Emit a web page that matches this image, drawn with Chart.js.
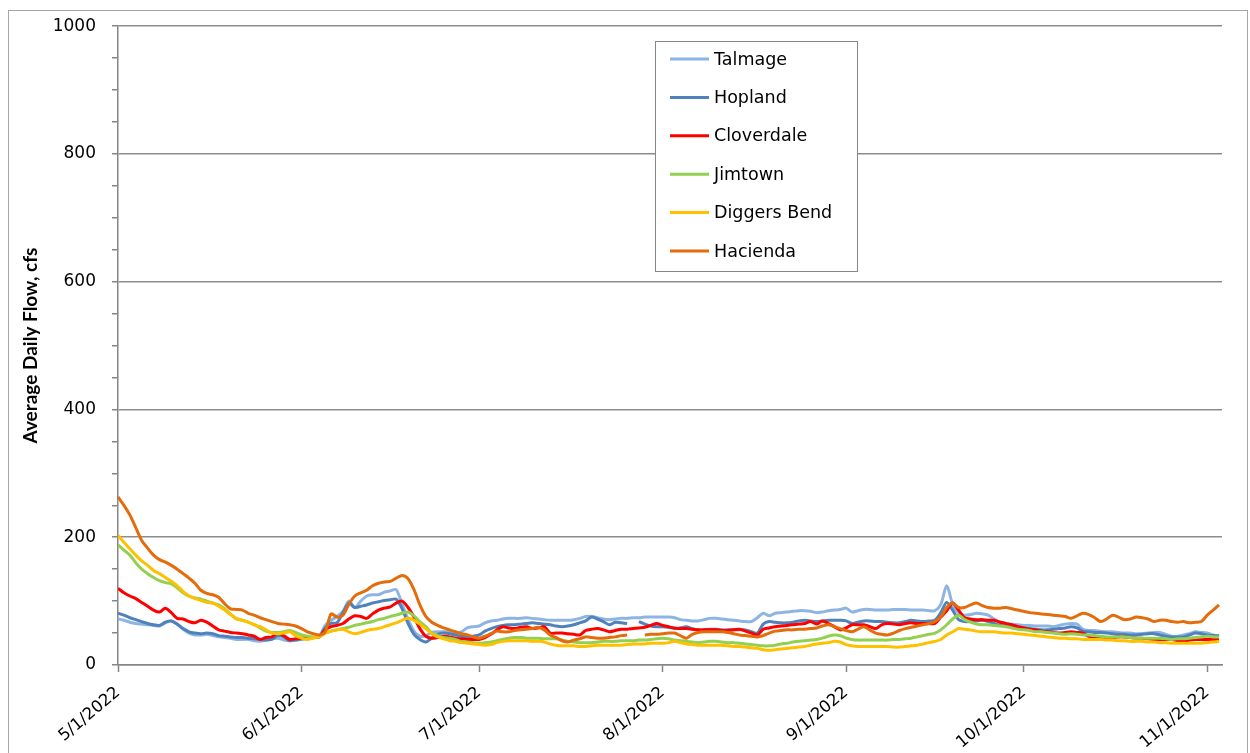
<!DOCTYPE html>
<html>
<head>
<meta charset="utf-8">
<title>Average Daily Flow</title>
<script src="https://cdn.jsdelivr.net/npm/chart.js@4.4.1/dist/chart.umd.min.js"></script>
<style>
  html, body { margin: 0; padding: 0; background: #ffffff; }
  canvas { display: block; }
</style>
</head>
<body>
<canvas id="flowChart" width="1250" height="753"></canvas>
<script>
// Average daily flow (cfs), one value per day from 5/1/2022 through 11/3/2022.
const talmage = [
  72,70,67,65,64,63,62,61,66,69, 64,56,50,47,47,48,46,44,43,42, 40,40,40,38,37,39,41,42,39,38, 39,
  40,41,43,45,62,70,76,84,100,90, 100,108,110,110,114,116,118,95,72,53, 45,46,51,52,52,52,50,52,58,60,
  61,66,69,70,72,73,73,73,74,73, 72,71,70,70,70,70,71,73,76,76, 74,72,71,72,73,73,74,74,75,75, 75,
  75,75,74,71,70,69,69,71,73,73, 72,71,70,69,68,68,74,81,77,81, 82,83,84,85,85,84,82,83,85,86, 87,
  89,83,85,87,87,86,86,86,87,87, 87,86,86,86,85,85,95,124,95,81, 78,79,81,80,78,72,67,65,64,63,
  62,62,61,61,61,60,62,64,65,64, 56,54,54,53,52,52,51,50,50,49, 49,50,51,51,48,45,45,47,49,52, 51,
  50,47,44
];
const hopland = [
  81,78,74,71,68,65,63,62,67,69, 64,57,52,50,49,50,49,46,45,44, 43,43,42,41,40,39,40,46,44,38, 39,
  41,42,43,44,58,65,66,82,97,90, 92,94,97,99,101,102,103,88,65,48, 40,36,42,48,50,49,47,45,44,45,
  47,53,57,60,62,63,63,64,65,66, 65,64,63,61,60,61,63,66,69,75, 72,68,63,67,66,65,null,68,64,61, 60,
  60,59,57,58,60,57,55,55,56,56, 55,55,55,55,55,52,50,64,68,67, 66,66,67,69,70,69,68,69,70,70, 70,
  69,65,67,69,69,68,68,67,66,66, 68,70,69,68,69,70,82,98,86,71, 68,68,69,70,68,65,62,61,60,59,
  58,57,56,55,55,56,57,58,60,58, 53,52,51,51,50,49,48,48,47,47, 48,49,49,47,45,44,44,44,47,50, 49,
  47,46,46
];
const cloverdale = [
  120,113,108,104,98,92,86,83,89,82, 73,72,68,66,70,67,61,55,53,51, 50,49,47,45,40,43,44,50,46,40, 41,
  42,42,43,44,55,60,62,65,72,77, 76,73,80,86,89,91,97,100,90,75, 57,45,42,43,45,44,42,41,40,40,
  40,43,48,55,60,58,57,59,60,57, 58,60,50,50,50,49,48,47,54,56, 57,55,52,54,56,56,57,58,59,62, 65,
  62,60,58,57,57,56,55,55,55,55, 54,54,55,56,53,50,47,56,58,60, 61,62,63,64,65,68,64,69,65,60, 55,
  58,63,63,63,60,57,63,65,64,63, 65,66,65,65,65,65,75,85,97,86, 74,72,71,71,70,70,67,65,63,60,
  58,56,55,53,52,51,50,51,52,51, 50,45,44,43,43,43,44,44,43,42, 42,41,40,40,40,40,38,37,39,40, 40,
  40,40,40
];
const jimtown = [
  188,180,172,160,150,143,137,132,129,127, 121,113,108,105,103,100,97,94,88,80, 72,70,67,63,58,53,51,51,52,54, 51,
  47,45,44,44,50,53,55,57,59,62, 64,66,68,71,73,76,78,81,83,77, 68,60,50,46,43,42,40,37,36,35,
  34,35,36,38,40,42,43,43,42,42, 42,41,41,41,39,37,36,35,35,35, 36,37,37,37,38,38,38,39,39,40, 41,
  42,41,39,38,37,36,35,36,37,37, 36,35,35,34,33,32,31,30,30,31, 33,34,36,37,38,39,40,42,45,47, 46,
  42,40,39,39,39,39,39,39,40,40, 41,42,44,46,48,50,55,63,72,78, 71,67,64,63,63,62,61,60,58,56,
  55,54,52,52,51,50,49,48,49,48, 47,47,46,45,44,44,44,44,43,42, 42,42,42,42,41,40,41,41,42,43, 44,
  45,44,44
];
const diggersBend = [
  203,192,182,172,163,156,148,143,137,131, 124,115,108,104,101,98,97,92,86,79, 73,70,67,63,60,55,50,49,50,52, 46,
  42,40,42,44,50,53,55,56,52,49, 51,54,56,57,60,63,66,70,73,70, 64,57,49,44,41,38,37,35,34,33,
  32,31,32,35,37,38,38,38,38,37, 37,36,33,31,30,30,30,29,29,30, 31,31,31,31,31,32,33,33,33,34, 34,
  34,35,37,35,33,32,31,31,31,31, 31,30,29,29,28,27,26,24,23,24, 25,26,27,28,29,31,33,34,35,37, 36,
  32,30,29,29,29,29,29,29,28,28, 29,30,31,33,35,37,40,47,52,57, 56,55,53,52,52,52,51,50,50,49,
  48,47,46,45,44,43,42,42,41,41, 40,40,40,40,39,39,38,38,37,37, 37,36,36,35,35,34,34,34,34,34, 34,
  35,36,37
];
const hacienda = [
  263,250,235,215,195,183,172,165,161,156, 150,143,136,128,117,112,110,106,96,88, 87,86,81,78,74,71,68,65,64,63, 61,
  57,52,49,47,52,80,75,78,95,108, 113,117,124,128,130,131,136,140,135,118, 94,76,67,62,58,55,52,49,47,44,
  42,45,49,53,52,52,54,55,56,57, 59,55,47,43,38,36,39,41,44,43, 42,42,43,44,46,47,null,null,47,48, 48,
  49,50,50,46,42,48,51,52,52,52, 52,51,49,47,46,45,44,46,50,53, 54,55,55,56,56,57,58,61,63,60, 57,
  54,52,56,60,55,50,48,47,50,54, 57,59,61,63,65,68,75,90,97,90, 90,94,97,93,90,89,89,90,88,86,
  84,82,81,80,79,78,77,76,73,77, 81,79,74,68,72,78,75,71,72,75, 74,72,68,70,70,68,67,68,66,67, 68,
  78,86,94
];

// Station names and line colours, in legend order.
const stationNames = ['Talmage', 'Hopland', 'Cloverdale', 'Jimtown', 'Diggers Bend', 'Hacienda'];
const stationColors = ['#8EB4E3', '#4F81BD', '#FF0000', '#92D050', '#FFC000', '#E46C0A'];
const stationSeries = [talmage, hopland, cloverdale, jimtown, diggersBend, hacienda];

// Month-start positions (days after 5/1/2022) and their axis labels.
const monthTickDays = [0, 31, 61, 92, 123, 153, 184];
const monthTickLabels = ['5/1/2022', '6/1/2022', '7/1/2022', '8/1/2022', '9/1/2022', '10/1/2022', '11/1/2022'];

// Value-axis labels every 200 cfs; unlabeled minor marks every 50 cfs.
const yLabelValues = [0, 200, 400, 600, 800, 1000];

stationSeries.forEach((s, i) => {
  if (s.length !== talmage.length) throw new Error(stationNames[i] + ' has ' + s.length + ' values');
});
const dayIndex = talmage.map((_, i) => i);

const AXIS_GRAY = '#868686';

// White page with the outer chart frame.
const framePlugin = {
  id: 'frame',
  beforeDraw(chart) {
    const ctx = chart.ctx;
    ctx.save();
    ctx.fillStyle = '#ffffff';
    ctx.fillRect(0, 0, chart.width, chart.height);
    ctx.strokeStyle = '#a6a6a6';
    ctx.lineWidth = 1;
    ctx.strokeRect(8.5, 10.5, 1239, 760);
    ctx.restore();
  }
};

// Boxed legend inside the plot area.
const boxLegendPlugin = {
  id: 'boxLegend',
  afterDatasetsDraw(chart, args, opts) {
    const ctx = chart.ctx;
    ctx.save();
    ctx.fillStyle = '#ffffff';
    ctx.fillRect(opts.left, opts.top, opts.width, opts.height);
    ctx.strokeStyle = AXIS_GRAY;
    ctx.lineWidth = 1;
    ctx.strokeRect(opts.left + 0.5, opts.top + 0.5, opts.width, opts.height);
    ctx.font = opts.font;
    ctx.textBaseline = 'middle';
    ctx.textAlign = 'left';
    chart.data.datasets.forEach((ds, i) => {
      const y = opts.firstRow + i * opts.rowGap;
      ctx.strokeStyle = ds.borderColor;
      ctx.lineWidth = 3;
      ctx.beginPath();
      ctx.moveTo(opts.lineStart, y);
      ctx.lineTo(opts.lineEnd, y);
      ctx.stroke();
      ctx.fillStyle = '#000000';
      ctx.fillText(ds.label, opts.textX, y + 1);
    });
    ctx.restore();
  }
};

const datasets = stationNames.map((name, i) => ({
  label: name,
  data: stationSeries[i],
  borderColor: stationColors[i],
  backgroundColor: stationColors[i],
  borderWidth: 3,
  pointRadius: 0,
  tension: 0.3,
  spanGaps: false,
  fill: false,
  order: stationNames.length - i
}));

new Chart(document.getElementById('flowChart'), {
  type: 'line',
  data: { labels: dayIndex, datasets },
  plugins: [framePlugin, boxLegendPlugin],
  options: {
    responsive: false,
    animation: false,
    devicePixelRatio: 1,
    layout: { padding: { top: 26, right: 28, left: 0, bottom: 0 } },
    plugins: {
      legend: { display: false },
      tooltip: { enabled: false },
      boxLegend: {
        left: 655, top: 41, width: 202, height: 230,
        firstRow: 59, rowGap: 38.4,
        lineStart: 670, lineEnd: 709, textX: 714,
        font: '17.5px "DejaVu Sans"'
      }
    },
    scales: {
      x: {
        type: 'linear',
        min: 0,
        max: 186.5,
        afterBuildTicks: (scale) => { scale.ticks = monthTickDays.map(v => ({ value: v })); },
        afterFit: (scale) => { scale.height = 88; },
        ticks: {
          autoSkip: false,
          minRotation: 40,
          maxRotation: 40,
          padding: 11,
          color: '#000000',
          font: { family: 'DejaVu Sans', size: 16.5 },
          callback: (value, index) => monthTickLabels[index]
        },
        grid: {
          drawOnChartArea: false,
          drawTicks: true,
          tickLength: 7,
          tickColor: AXIS_GRAY,
          tickWidth: 1.5
        },
        border: { color: AXIS_GRAY, width: 1.5 }
      },
      y: {
        min: 0,
        max: 1000,
        afterBuildTicks: (scale) => {
          const t = [];
          for (let v = 0; v <= 1000; v += 50) t.push({ value: v });
          scale.ticks = t;
        },
        afterFit: (scale) => { scale.width = 118; },
        ticks: {
          autoSkip: false,
          padding: 16,
          color: '#000000',
          font: { family: 'DejaVu Sans', size: 17 },
          callback: (value) => (yLabelValues.includes(value) ? String(value) : '')
        },
        grid: {
          color: (c) => (c.tick && yLabelValues.includes(c.tick.value) ? '#8c8c8c' : 'rgba(0,0,0,0)'),
          lineWidth: 1.5,
          drawTicks: true,
          tickLength: 6,
          tickColor: AXIS_GRAY,
          tickWidth: 1.5
        },
        border: { color: AXIS_GRAY, width: 1.5 },
        title: {
          display: true,
          text: 'Average Daily Flow, cfs',
          color: '#000000',
          font: { family: 'Lato', weight: 'bold', size: 19 },
          padding: { top: 19, bottom: 0 }
        }
      }
    }
  }
});
</script>
</body>
</html>
